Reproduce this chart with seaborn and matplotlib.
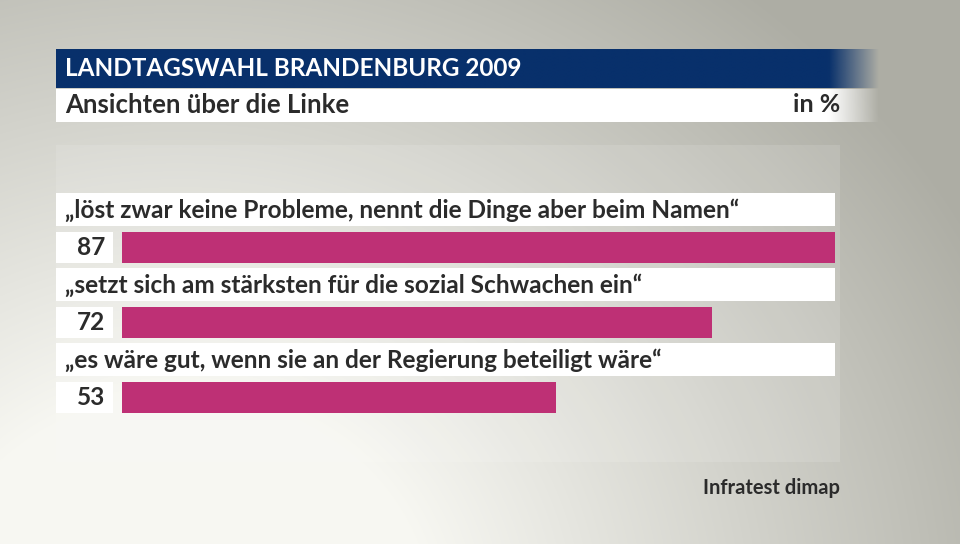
import numpy as np
import pandas as pd
import matplotlib
matplotlib.use("Agg")
import matplotlib.pyplot as plt
from matplotlib.patches import Rectangle
import seaborn as sns

# ---- data ----
statements = [
    "„löst zwar keine Probleme, nennt die Dinge aber beim Namen“",
    "„setzt sich am stärksten für die sozial Schwachen ein“",
    "„es wäre gut, wenn sie an der Regierung beteiligt wäre“",
]
values = [87, 72, 53]
title = "LANDTAGSWAHL BRANDENBURG 2009"
subtitle = "Ansichten über die Linke"
unit = "in %"
source = "Infratest dimap"

df = pd.DataFrame({"statement": statements, "value": values})

sns.set_theme(style="white")
plt.rcParams["font.family"] = ["Lato", "DejaVu Sans"]

W, H = 960, 544
fig = plt.figure(figsize=(W / 100, H / 100), dpi=100)

# ---- background gradient ----
bg = fig.add_axes([0, 0, 1, 1])
bg.set_xlim(0, W)
bg.set_ylim(H, 0)
bg.axis("off")
yy, xx = np.mgrid[0:H, 0:W]
d = np.sqrt(((xx - 180) / 1.0) ** 2 + ((yy - 620) / 0.9) ** 2)
t = np.clip((d - 250) / 650, 0, 1)
light = np.array([0.97, 0.97, 0.95])
dark = np.array([0.68, 0.68, 0.645])
img = light[None, None, :] * (1 - t[..., None]) + dark[None, None, :] * t[..., None]
bg.imshow(img, extent=(0, W, H, 0), aspect="auto", zorder=0)

# content panel (subtle lighter area)
bg.add_patch(Rectangle((56, 145), 784, 317, facecolor="white", alpha=0.12,
                       edgecolor="none", zorder=1))


def fade_bar(x0, x1, xf, y0, y1, rgb, z):
    n = 400
    xs = np.linspace(x0, xf, n)
    a = np.clip((xf - xs) / (xf - x1), 0, 1)
    arr = np.zeros((1, n, 4))
    arr[0, :, :3] = rgb
    arr[0, :, 3] = a
    bg.imshow(arr, extent=(x0, xf, y1, y0), aspect="auto", zorder=z,
              interpolation="bilinear")


fade_bar(56, 830, 880, 49, 88, np.array([0x08, 0x30, 0x6b]) / 255, 2)
fade_bar(56, 830, 880, 89, 122, np.array([1.0, 1.0, 1.0]), 2)
bg.set_xlim(0, W)
bg.set_ylim(H, 0)

bg.text(65, 69, title, color="white", fontsize=17.5, fontweight="bold",
        va="center", ha="left", zorder=5)
bg.text(65, 105, subtitle, color="#2b2b2b", fontsize=18.5, fontweight="bold",
        va="center", ha="left", zorder=5)
bg.text(840, 105, unit, color="#2b2b2b", fontsize=18, fontweight="bold",
        va="center", ha="right", zorder=5)
bg.text(840, 488, source, color="#2b2b2b", fontsize=14.5, fontweight="bold",
        va="center", ha="right", zorder=5)

# ---- bar axes ----
x_left, x_right = 122, 835
y_top, y_bot = 145, 462
ax = fig.add_axes([x_left / W, 1 - y_bot / H, (x_right - x_left) / W, (y_bot - y_top) / H])
ax.set_facecolor("none")
row = 75.0
ymin = (y_top - 247.5) / row
ymax = (y_bot - 247.5) / row

sns.barplot(data=df, x="value", y="statement", orient="h", color="#BE3075",
            width=31 / row, saturation=1, linewidth=0, ax=ax, zorder=3)
ax.set_xlim(0, max(values))
ax.set_ylim(ymax, ymin)
ax.axis("off")

scale = (x_right - x_left) / max(values)  # px per unit
box_left = (56 - x_left) / scale
num_right = (113 - x_left) / scale
for i, (s, v) in enumerate(zip(statements, values)):
    # statement white box
    ax.add_patch(Rectangle((box_left, i - 54 / row), max(values) - box_left, 33 / row,
                           facecolor="white", edgecolor="none", clip_on=False, zorder=2))
    ax.text((65 - x_left) / scale, i - 37.5 / row, s, color="#2b2b2b", fontsize=17.6,
            fontweight="bold", va="center", ha="left", clip_on=False, zorder=4)
    # value white box
    ax.add_patch(Rectangle((box_left, i - 15.5 / row), num_right - box_left, 31 / row,
                           facecolor="white", edgecolor="none", clip_on=False, zorder=2))
    ax.text((105 - x_left) / scale, i, f"{v}", color="#2b2b2b", fontsize=17.6,
            fontweight="bold", va="center", ha="right", clip_on=False, zorder=4)

fig.savefig("out.png", dpi=100)
